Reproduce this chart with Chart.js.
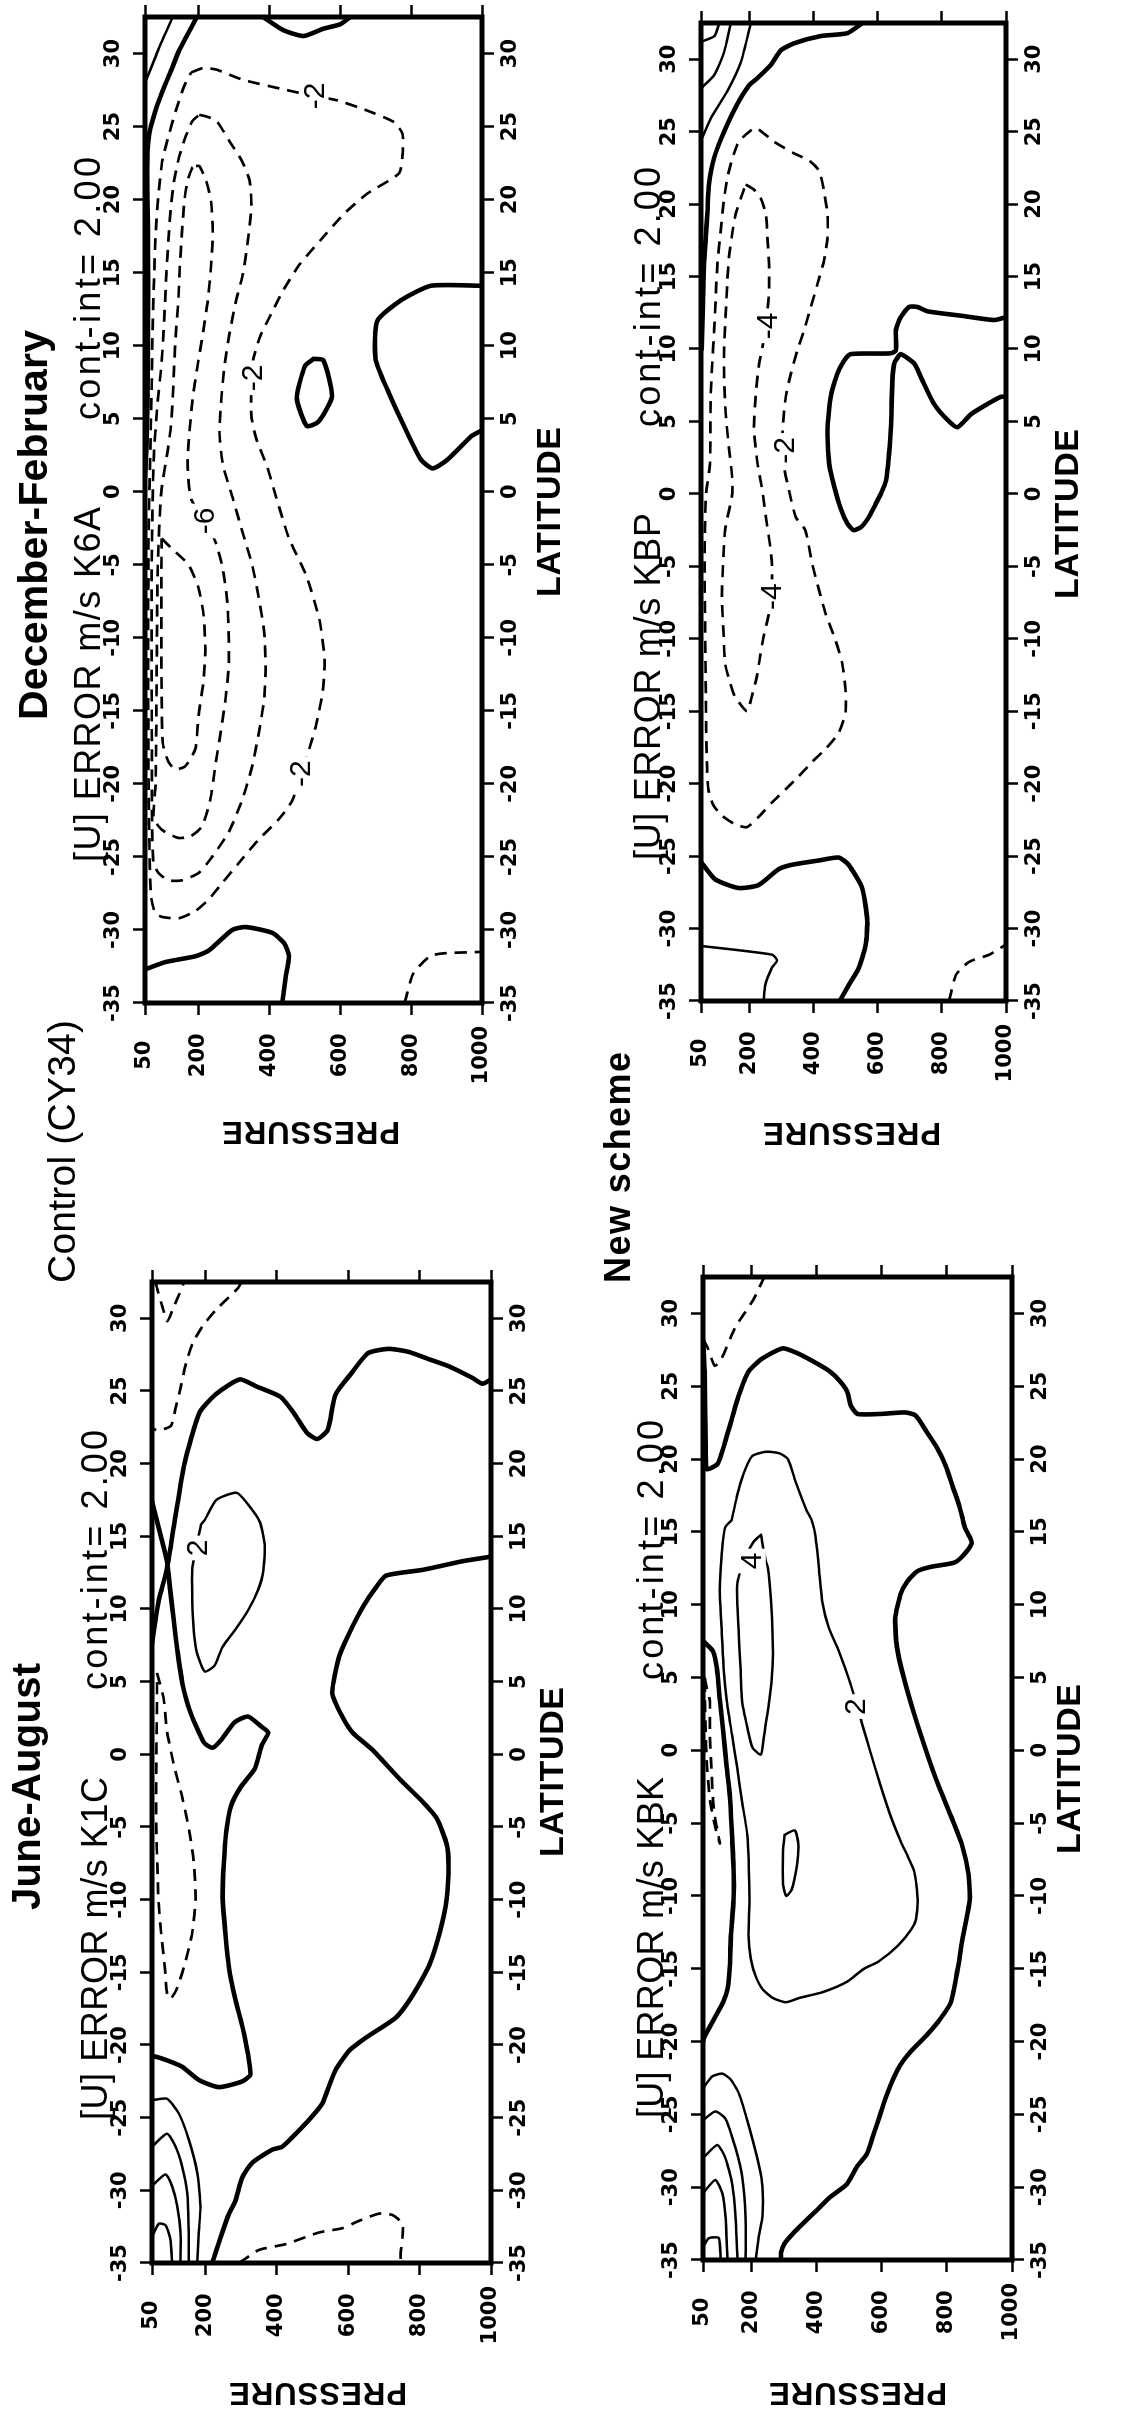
<!DOCTYPE html>
<html><head><meta charset="utf-8">
<script src="https://cdn.jsdelivr.net/npm/chart.js"></script>
<style>
html,body{margin:0;padding:0;background:#fff;overflow:hidden;width:1139px;height:2420px;}
#land{position:absolute;left:0;top:0;width:2420px;height:1139px;transform-origin:0 0;transform:translate(0px,2420px) rotate(-90deg);background:#fff;}
#land canvas{position:absolute;}
#land svg{position:absolute;left:0;top:0;}
</style></head><body>
<div id="land">
<canvas id="k1c"></canvas>
<canvas id="k6a"></canvas>
<canvas id="kbk"></canvas>
<canvas id="kbp"></canvas>
<svg width="2420" height="1139" font-family="'Liberation Sans', Arial, sans-serif" fill="#000">
  <text x="510" y="40" font-weight="bold" font-size="40" textLength="247" lengthAdjust="spacing">June-August</text>
  <text x="1700" y="47" font-weight="bold" font-size="41" textLength="390" lengthAdjust="spacing">December-February</text>
  <text x="1137" y="75" font-size="39" textLength="263" lengthAdjust="spacing">Control (CY34)</text>
  <text x="1137" y="630" font-weight="bold" font-size="36" textLength="231" lengthAdjust="spacing">New scheme</text>

  <text x="300" y="107" font-size="36" textLength="343" lengthAdjust="spacing">[U] ERROR m/s  K1C</text>
  <text x="730" y="107" font-size="36" textLength="260" lengthAdjust="spacing">cont-int=  2.00</text>
  <text x="1558" y="100" font-size="36" textLength="355" lengthAdjust="spacing">[U] ERROR m/s  K6A</text>
  <text x="2000" y="100" font-size="36" textLength="263" lengthAdjust="spacing">cont-int=  2.00</text>
  <text x="302" y="663" font-size="36" textLength="341" lengthAdjust="spacing">[U] ERROR m/s  KBK</text>
  <text x="740" y="663" font-size="36" textLength="260" lengthAdjust="spacing">cont-int=  2.00</text>
  <text x="1560" y="660" font-size="36" textLength="347" lengthAdjust="spacing">[U] ERROR m/s  KBP</text>
  <text x="1993" y="660" font-size="36" textLength="260" lengthAdjust="spacing">cont-int=  2.00</text>

  <text x="648" y="563" font-weight="bold" font-size="34" text-anchor="middle" textLength="170" lengthAdjust="spacing">LATITUDE</text>
  <text x="1908" y="560" font-weight="bold" font-size="34" text-anchor="middle" textLength="170" lengthAdjust="spacing">LATITUDE</text>
  <text x="651" y="1080" font-weight="bold" font-size="34" text-anchor="middle" textLength="170" lengthAdjust="spacing">LATITUDE</text>
  <text x="1906" y="1078" font-weight="bold" font-size="34" text-anchor="middle" textLength="170" lengthAdjust="spacing">LATITUDE</text>

  <text transform="translate(37,318) rotate(-90)" font-weight="bold" font-size="31" text-anchor="middle" textLength="178" lengthAdjust="spacing">PRESSURE</text>
  <text transform="translate(1298,311) rotate(-90)" font-weight="bold" font-size="31" text-anchor="middle" textLength="178" lengthAdjust="spacing">PRESSURE</text>
  <text transform="translate(37,858) rotate(-90)" font-weight="bold" font-size="31" text-anchor="middle" textLength="178" lengthAdjust="spacing">PRESSURE</text>
  <text transform="translate(1297,852) rotate(-90)" font-weight="bold" font-size="31" text-anchor="middle" textLength="178" lengthAdjust="spacing">PRESSURE</text>
</svg>
</div>
<script>
// ---------------- axis ticks ----------------
const latTicks = [-35,-30,-25,-20,-15,-10,-5,0,5,10,15,20,25,30];
const latTickLabels = ['-35','-30','-25','-20','-15','-10','-5','0','5','10','15','20','25','30'];
const presTicks = [50,200,400,600,800,1000];
const presTickLabels = ['50','200','400','600','800','1000'];

// ---------------- K1C (June-August, control) : [latitude, pressure] ----------------
const k1cZeroA = [[25.8,1000],[25.5,976],[25.9,948],[26.7,882],[27.2,825],[27.7,768],[27.9,712],[27.6,655],[26.2,608],[24.8,565],[22.3,542],[21.7,513],[22.1,485],[23.5,447],[24.6,410],[25.3,344],[25.8,296],[24.8,230],[23.5,183],[20.0,141],[16.1,114],[12.8,92],[10.6,69],[8.8,57],[7.6,50]];
const k1cZeroB = [[17.4,50],[15.1,74],[13.3,92],[11.5,100],[9.4,110],[7.2,121],[4.9,135],[2.8,159],[0.8,196],[0.45,220],[1.0,244],[2.2,281],[2.6,319],[1.9,357],[1.5,376],[0.6,357],[-1.0,338],[-2.2,300],[-3.5,272],[-5.3,258],[-7.6,251],[-9.9,248],[-12.4,256],[-14.7,266],[-16.9,284],[-19.2,308],[-22.0,326],[-22.5,303],[-22.9,237],[-22.4,181],[-21.5,135],[-21.1,97],[-20.8,60],[-20.8,50]];
const k1cZeroC = [[13.6,1000],[13.3,923],[12.7,810],[12.3,706],[11.5,678],[10.1,640],[8.3,602],[6.7,574],[4.2,555],[2.6,583],[1.5,612],[0.3,668],[-1.7,744],[-3.3,810],[-4.4,848],[-6.2,876],[-7.6,881],[-9.9,876],[-12.2,857],[-14.4,829],[-16.4,785],[-18.1,734],[-19.5,649],[-20.4,602],[-21.7,565],[-23.1,542],[-24.0,528],[-24.9,499],[-26.1,453],[-27.0,415],[-27.2,387],[-28.1,331],[-29.1,303],[-30.7,284],[-31.6,266],[-32.9,247],[-34.3,228],[-35,219]];
const k1cPos2 = [[15.8,187],[12.8,163],[10.6,163],[8.3,168],[6.9,177],[5.7,198],[6.1,225],[7.4,248],[8.5,281],[9.9,319],[11.3,347],[12.6,362],[14.4,366],[16.0,352],[17.2,319],[18.0,287],[17.5,230],[16.1,197],[15.8,187]];
const k1cPosT1 = [[-23.8,50],[-23.7,92],[-24.7,125],[-26.5,153],[-28.8,177],[-31.1,186],[-32.9,181],[-35,177]];
const k1cPosT2 = [[-27.0,50],[-26.1,92],[-27.0,116],[-28.4,135],[-30.2,149],[-32.9,153],[-35,153]];
const k1cPosT3 = [[-29.7,50],[-28.9,88],[-29.7,106],[-31.1,121],[-32.9,130],[-35,130]];
const k1cPosT4 = [[-33.2,50],[-32.3,69],[-32.4,88],[-33.4,102],[-35,106]];
const k1cNegA = [[5.6,64],[3.8,83],[1.6,92],[-0.7,111],[-3.0,135],[-5.2,154],[-7.6,168],[-10.0,172],[-12.4,162],[-14.6,140],[-16.1,120],[-16.8,103],[-16.6,93],[-14.7,86],[-12.4,76],[-10.0,68],[-7.6,65],[-5.3,62],[-0.8,62],[3.7,64],[5.6,64]];
const k1cNegB = [[32.5,60],[32.0,65],[30.8,79],[29.8,93],[30.6,108],[31.7,127],[32.5,140]];
const k1cNegC = [[32.5,300],[32.1,292],[30.6,230],[29.5,193],[28.3,164],[26.9,145],[25.3,131],[23.9,117],[22.6,103],[22.3,70],[22.4,50]];
const k1cNegD = [[-35,294],[-34.1,350],[-33.7,425],[-32.9,518],[-32.6,584],[-32.1,630],[-31.6,687],[-31.7,724],[-32.3,752],[-33.2,752],[-34.3,747],[-35,747]];
const k1cLabels = [['2',14.2,177]];

// ---------------- K6A (December-February, control) ----------------
const k6aZeroA = [[32.5,196],[31.3,170],[30.2,146],[28.8,123],[27.7,104],[26.5,85],[25.4,71],[24.5,62],[23.3,57],[21.8,56],[18,58],[14,59],[10,58],[6,57],[3,54],[1,50]];
const k6aZeroB = [[32.5,383],[31.6,440],[31.2,497],[31.7,553],[32.0,600],[32.5,629]];
const k6aZeroC = [[9.1,525],[9.0,553],[6.5,577],[4.8,539],[4.5,506],[6.4,478],[8.6,501],[9.1,525]];
const k6aZeroD = [[14.1,1000],[14.1,856],[13.1,771],[11.7,705],[9.1,700],[7.0,733],[4.5,780],[2.2,828],[1.6,861],[2.2,903],[3.8,970],[4.2,1000]];
const k6aZeroE = [[-32.7,50],[-32.2,107],[-31.8,192],[-31.4,230],[-30.0,296],[-29.8,334],[-30.2,409],[-30.9,442],[-31.8,456],[-33.2,447],[-35,437]];
const k6aPosA = [[32.5,128],[30.4,90],[28.1,52]];
const k6aNegA = [[-35,782],[-33.0,806],[-31.8,853],[-31.6,891],[-31.5,1000]];
const k6aNeg2 = [[28.7,180],[29.0,213],[28.9,251],[28.2,326],[27.5,449],[27.1,525],[26.8,591],[26.1,676],[25.3,752],[24.5,776],[23.1,776],[21.8,766],[20.4,676],[19.0,610],[17.2,544],[15.6,487],[13.8,440],[12.0,402],[10.6,374],[9.0,355],[7.4,350],[5.2,350],[3.6,364],[1.8,393],[-0.4,420],[-3.2,456],[-5.7,504],[-8.7,541],[-11.4,556],[-13.7,551],[-16.0,532],[-17.6,513],[-21.1,466],[-22.4,428],[-23.8,371],[-25.4,315],[-26.8,267],[-27.9,230],[-28.7,192],[-29.2,145],[-29.1,97],[-28.8,78],[-27.5,66],[-20,60],[-10,59],[-3,60],[4,66],[7.4,69],[10.8,71],[14.2,75],[17.7,80],[20.4,88],[22.7,99],[24.5,118],[26.1,137],[27.8,161],[28.7,180]];
const k6aNeg4 = [[25.8,203],[25.7,222],[25.4,251],[24.0,288],[22.7,322],[21.3,345],[19.5,350],[17.2,340],[14.9,326],[13.1,307],[10.8,288],[8.6,274],[6.3,265],[4.0,260],[1.8,270],[-0.5,298],[-2.7,324],[-5,352],[-7.3,371],[-9.6,386],[-11.9,390],[-14.2,386],[-16.5,371],[-18.8,352],[-21.1,324],[-23.3,286],[-25,239],[-26.1,201],[-26.6,154],[-26.6,116],[-26.1,88],[-25.4,74],[-23,70],[-15,69],[-5,69],[2,74],[6,85],[8.6,96],[10.4,101],[12.7,106],[14.9,110],[17.2,116],[19.5,123],[21.3,132],[22.9,146],[24.2,163],[25.4,184],[25.8,203]];
const k6aNeg6 = [[22.3,194],[22.3,203],[21.3,222],[19.9,236],[17.7,241],[15.4,236],[13.1,227],[10.8,213],[8.6,198],[6.3,184],[4.0,175],[1.8,170],[-0.5,180],[-2.0,218],[-3.4,248],[-5,267],[-7.3,281],[-9.6,286],[-11.9,286],[-14.2,277],[-16.5,263],[-18.8,248],[-21.1,234],[-22.9,211],[-23.6,178],[-23.7,144],[-23.3,107],[-22.9,88],[-22.2,74],[-20,80],[-12,83],[-5,86],[0,96],[3,115],[4.5,123],[6.3,128],[8.6,132],[10.8,137],[13.1,144],[15.4,148],[17.7,154],[19.9,161],[21.3,170],[22.2,184],[22.3,194]];
const k6aNeg8 = [[-3.2,97],[-3.9,126],[-5,173],[-6.6,201],[-8.4,215],[-10.7,220],[-13.0,215],[-15.3,201],[-17.6,192],[-18.8,163],[-19.0,135],[-18.5,116],[-17.2,100],[-14,97],[-10,96],[-6,96],[-3.2,97]];
const k6aLabels = [['-2',27.1,528],['-2',7.8,353],['-6',-2.0,218],['-2',-19.3,489]];

// ---------------- KBK (June-August, new scheme) ----------------
const kbkZeroA = [[28.2,50],[26,55],[23,57],[20.5,58],[19.3,62],[19.7,96],[21.1,117],[22.7,138],[24.3,159],[26.0,190],[26.9,232],[27.6,295],[27.3,337],[26.7,389],[26.0,441],[25.3,473],[24.6,494],[23.7,504],[23.1,525],[23.1,598],[23.2,671],[23.0,703],[22.0,734],[20.9,766],[19.5,797],[18.1,818],[16.7,839],[15.8,849],[15.3,855],[14.6,871],[14.2,876],[13.5,855],[12.9,824],[12.6,751],[12.3,709],[11.6,678],[10.7,657],[9.1,641],[7.1,646],[5.0,667],[2.5,699],[-0.3,740],[-2.3,772],[-4.6,814],[-6.4,845],[-8.5,866],[-10.3,870],[-12.7,850],[-15,833],[-17.3,812],[-18.4,781],[-19.5,740],[-20.7,688],[-21.6,657],[-22.5,636],[-23.6,616],[-25.0,595],[-26.4,574],[-27.7,554],[-28.6,523],[-29.8,492],[-30.7,440],[-31.6,399],[-32.5,357],[-33.2,326],[-33.9,300],[-34.5,290],[-35,290]];
const kbkZeroB = [[7.5,50],[6.8,81],[5.7,92],[3.4,102],[1.1,113],[-1.2,123],[-3.5,134],[-5.8,139],[-8.0,144],[-10.3,144],[-12.6,136],[-14.9,132],[-16.4,125],[-17.3,112],[-18.2,90],[-19.1,68],[-19.8,52],[-20,50]];
const kbkPos2 = [[15.8,138],[17.4,154],[19.0,175],[20.2,201],[20.5,243],[20.4,284],[20.0,311],[18.3,337],[16.5,368],[15.8,384],[14.8,395],[12.6,406],[10.3,416],[8.4,437],[6.8,468],[4.8,500],[1.6,542],[0.0,563],[-2.3,594],[-4.4,625],[-6.2,657],[-8.3,699],[-10.3,710],[-11.6,705],[-12.3,690],[-13.4,650],[-14.5,590],[-15,545],[-15.9,492],[-16.6,419],[-17.0,347],[-17.3,305],[-17.0,264],[-16.4,233],[-15.5,212],[-14.3,197],[-12.7,190],[-10.3,193],[-8.0,191],[-5.8,186],[-3.5,170],[-1.2,155],[1.1,139],[3.4,123],[5.7,113],[8.0,108],[10.3,102],[11.6,102],[13.5,108],[15.3,118],[15.8,138]];
const kbkPos4 = [[14.8,228],[13.0,243],[12.6,249],[10.3,259],[8.0,264],[5.7,264],[3.4,254],[1.1,238],[-0.3,228],[0.2,202],[1.6,186],[3.4,170],[5.7,165],[8.0,160],[11.4,155],[13.0,175],[14.3,205],[14.8,228]];
const kbkPos4b = [[-5.8,301],[-5.5,332],[-6.4,343],[-8.0,338],[-9.6,322],[-10.0,306],[-9.2,296],[-6.9,296],[-5.8,301]];
const kbkPosT1 = [[-23.2,50],[-22.4,78],[-22.2,109],[-22.6,135],[-23.6,161],[-25.9,192],[-28.6,223],[-30,233],[-32,233],[-33.2,223],[-35,212]];
const kbkPosT2 = [[-25.4,50],[-24.8,88],[-25.3,119],[-27.3,150],[-29.3,171],[-32,181],[-35,181]];
const kbkPosT3 = [[-28,50],[-27.1,94],[-28,119],[-29.8,140],[-32,150],[-35,156]];
const kbkPosT4 = [[-30.4,50],[-29.5,88],[-30.4,109],[-32,119],[-35,125]];
const kbkPosT5 = [[-34.1,50],[-33.5,68],[-33.5,99],[-35,104]];
const kbkNegA = [[28.2,50],[27.6,65],[26.4,86],[26.9,107],[29.0,148],[30.1,180],[31.0,206],[32.2,232],[32.5,238]];
const kbkNegB = [[5,55],[4.3,61],[3.4,71],[1.1,71],[-1.2,76],[-3.5,81],[-4.6,87],[-5.8,97],[-6.4,102],[-5.5,90],[-3.5,72],[-1,62],[2,57],[5,55]];
const kbkLabels = [['4',13.0,200],['2',3.0,521]];

// ---------------- KBP (December-February, new scheme) ----------------
const kbpPosA = [[31.2,50],[31.6,92],[32.5,107]];
const kbpPosB = [[28.0,50],[28.9,91],[30.5,122],[32.5,143]];
const kbpPosC = [[24.6,54],[25.9,80],[27.8,132],[29.8,174],[32.5,205]];
const kbpPosD = [[-31.2,50],[-31.8,271],[-32.2,287],[-32.7,271],[-33.9,250],[-35,245]];
const kbpZeroA = [[32.5,553],[31.8,506],[31.6,423],[31.1,340],[30.6,298],[29.6,267],[28.7,226],[28.2,200],[26.9,163],[25.0,122],[23.2,91],[21.4,75],[19.5,70],[17.7,65],[15.9,59],[12.5,55],[10.0,52]];
const kbpZeroB = [[12.2,1000],[12.0,963],[12.3,859],[12.6,756],[12.9,724],[12.9,698],[12.2,672],[11.3,657],[9.9,657],[9.7,640],[9.65,517],[9.2,496],[8.3,475],[6.7,454],[4.4,444],[2.1,449],[0.5,465],[-1.0,485],[-2.0,505],[-2.5,525],[-2.3,548],[-1.6,573],[-0.7,594],[0.0,610],[0.9,626],[4.4,641],[7.8,646],[9.0,652],[9.4,662],[9.65,672],[9.0,714],[8.05,735],[6.2,776],[5.1,818],[4.6,849],[5.5,891],[6.2,942],[6.7,984],[6.7,1000]];
const kbpZeroC = [[-25.4,50],[-26.6,94],[-27.2,167],[-27.0,229],[-25.9,292],[-25.6,333],[-25.3,417],[-25.1,479],[-25.6,510],[-27.2,552],[-29.5,568],[-31.1,563],[-32.7,542],[-33.9,510],[-35,482]];
const kbpNegA = [[-35,823],[-33.2,844],[-32.3,885],[-31.8,948],[-31.1,1000]];
const kbpNeg2 = [[24.6,179],[25.25,220],[24.3,278],[23.5,340],[23.0,387],[22.3,418],[20.9,433],[19.3,444],[17.7,444],[16.1,433],[14.5,413],[12.9,392],[11.3,371],[9.9,350],[8.3,330],[6.7,314],[4.4,304],[2.1,307],[0.25,324],[-1.6,345],[-2.5,375],[-4.8,396],[-6.6,417],[-8.25,438],[-10.1,469],[-11.7,490],[-13.5,500],[-15.1,500],[-16.5,479],[-17.6,438],[-18.5,396],[-19.5,354],[-20.4,313],[-21.3,271],[-22.3,229],[-23.0,193],[-22.8,156],[-22.2,115],[-21.5,89],[-20.4,73],[-18.5,68],[-14.0,65],[-9.4,63],[-4.8,61],[-0.2,65],[2.1,78],[6.7,80],[9.0,85],[11.3,91],[13.6,96],[15.9,101],[18.1,111],[20.4,122],[21.8,132],[23.2,148],[24.1,163],[24.6,179]];
const kbpNeg4 = [[21.35,189],[21.0,215],[20.4,236],[19.3,252],[17.7,257],[15.85,262],[14.0,262],[12.6,257],[11.6,252],[10.1,241],[9.0,231],[6.7,220],[4.4,215],[2.1,226],[0.25,241],[-1.6,252],[-3.7,266],[-4.8,271],[-6.4,271],[-7.8,266],[-8.9,255],[-9.85,245],[-11.2,234],[-12.6,224],[-14.0,208],[-15.0,193],[-14.0,156],[-13.05,141],[-11.7,125],[-9.4,120],[-7.1,115],[-2.5,125],[-0.2,146],[0.9,148],[3.2,137],[5.5,127],[7.8,122],[10.1,122],[12.4,127],[14.7,132],[16.3,137],[18.1,148],[19.3,158],[20.4,174],[21.35,189]];
const kbpLabels = [['-4',11.6,258],['-4',-7.1,270],['-2',3.0,310]];

// ---------------- drawing ----------------
const STYLE = {
  zero: {w: 4.6, dash: [], cap: 'round'},
  pos:  {w: 2.5, dash: [], cap: 'round'},
  neg:  {w: 2.7, dash: [12, 8], cap: 'butt'}
};
function ds(arr, kind){
  const s = STYLE[kind];
  return {data: arr.map(([lat,p]) => ({x: lat, y: p})), showLine: true, borderColor: '#000',
    borderWidth: s.w, borderDash: s.dash, borderCapStyle: s.cap, borderJoinStyle: 'round',
    pointRadius: 0, pointHoverRadius: 0, tension: 0.2, fill: false};
}
const tickFont = {family: "'DejaVu Sans', sans-serif", size: 21, weight: 'bold'};
function latAxis(pos){
  return {
    type: 'linear', position: pos, min: -35, max: 32.5,
    afterBuildTicks: s => { s.ticks = latTicks.map(v => ({value: v})); },
    ticks: {autoSkip: false, maxRotation: 0, minRotation: 0, padding: pos === 'top' ? 7 : 4, color: '#000', font: tickFont,
      callback: v => latTickLabels[latTicks.indexOf(v)]},
    grid: {display: true, drawOnChartArea: false, drawTicks: true, tickLength: 12, tickWidth: 2.5, tickColor: '#000', color: '#000'},
    border: {display: false},
    afterFit: s => { s.height = 50; }
  };
}
function presAxis(pos){
  return {
    type: 'linear', position: pos, reverse: true, min: 50, max: 1000,
    afterBuildTicks: s => { s.ticks = presTicks.map(v => ({value: v})); },
    ticks: {display: pos === 'left', autoSkip: false, crossAlign: 'center', padding: 11, color: '#000', font: tickFont,
      callback: v => presTickLabels[presTicks.indexOf(v)]},
    grid: {display: true, drawOnChartArea: false, drawTicks: true, tickLength: 12, tickWidth: 2.5, tickColor: '#000', color: '#000'},
    border: {display: false},
    afterFit: s => { s.width = pos === 'left' ? 100 : 14; }
  };
}
function labelPlugin(items){
  return {id: 'contourLabels', afterDatasetsDraw(chart){
    const {ctx, scales} = chart;
    ctx.save();
    ctx.font = "30px 'Liberation Sans', Arial, sans-serif";
    ctx.textAlign = 'center'; ctx.textBaseline = 'middle';
    items.forEach(([t, lat, p]) => {
      const px = scales.x.getPixelForValue(lat), py = scales.y.getPixelForValue(p);
      const w = ctx.measureText(t).width + 8, h = 28;
      ctx.fillStyle = '#fff'; ctx.fillRect(px - w/2, py - h/2, w, h);
      ctx.fillStyle = '#000'; ctx.fillText(t, px, py + 1);
    });
    ctx.restore();
  }};
}
const framePlugin = {id: 'frame', afterDatasetsDraw(chart){
  const {ctx, chartArea: a} = chart;
  ctx.save(); ctx.strokeStyle = '#000'; ctx.lineWidth = 5; ctx.setLineDash([]);
  ctx.strokeRect(a.left, a.top, a.right - a.left, a.bottom - a.top);
  ctx.restore();
}};

const panels = [
  {id: 'k1c', left: 57, top: 102, w: 1095, h: 439,
   zero: [k1cZeroA, k1cZeroB, k1cZeroC], pos: [k1cPos2, k1cPosT1, k1cPosT2, k1cPosT3, k1cPosT4],
   neg: [k1cNegA, k1cNegB, k1cNegC, k1cNegD], labels: k1cLabels},
  {id: 'k6a', left: 1317, top: 95, w: 1100, h: 437,
   zero: [k6aZeroA, k6aZeroB, k6aZeroC, k6aZeroD, k6aZeroE], pos: [k6aPosA],
   neg: [k6aNegA, k6aNeg2, k6aNeg4, k6aNeg6, k6aNeg8], labels: k6aLabels},
  {id: 'kbk', left: 60, top: 653, w: 1097, h: 409,
   zero: [kbkZeroA, kbkZeroB], pos: [kbkPos2, kbkPos4, kbkPos4b, kbkPosT1, kbkPosT2, kbkPosT3, kbkPosT4, kbkPosT5],
   neg: [kbkNegA, kbkNegB], labels: kbkLabels},
  {id: 'kbp', left: 1319, top: 651, w: 1092, h: 405,
   zero: [kbpZeroA, kbpZeroB, kbpZeroC], pos: [kbpPosA, kbpPosB, kbpPosC, kbpPosD],
   neg: [kbpNegA, kbpNeg2, kbpNeg4], labels: kbpLabels}
];

panels.forEach(p => {
  const cv = document.getElementById(p.id);
  cv.width = p.w; cv.height = p.h;
  cv.style.left = p.left + 'px'; cv.style.top = p.top + 'px';
  cv.style.width = p.w + 'px'; cv.style.height = p.h + 'px';
  const datasets = [
    ...p.neg.map(a => ds(a, 'neg')),
    ...p.pos.map(a => ds(a, 'pos')),
    ...p.zero.map(a => ds(a, 'zero'))
  ];
  new Chart(cv, {
    type: 'scatter',
    data: {datasets},
    options: {
      responsive: false, maintainAspectRatio: false, animation: false, devicePixelRatio: 1, events: [],
      layout: {padding: 0},
      plugins: {legend: {display: false}, tooltip: {enabled: false}},
      scales: {x: latAxis('bottom'), x2: latAxis('top'), y: presAxis('left'), y2: presAxis('right')}
    },
    plugins: [labelPlugin(p.labels), framePlugin]
  });
});
</script>
</body></html>
